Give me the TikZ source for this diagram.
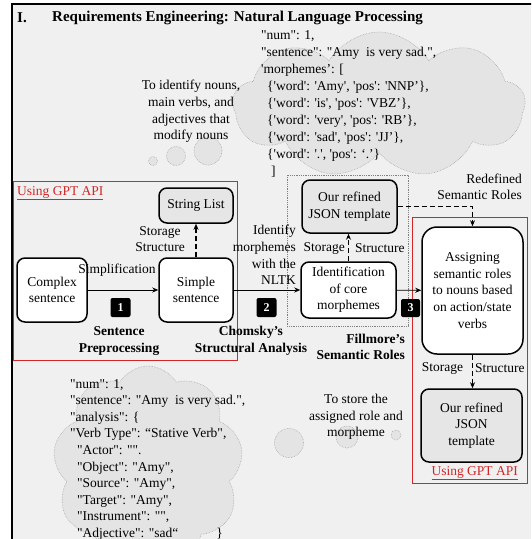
\documentclass[tikz,border=0pt]{standalone}
\usepackage{fontspec}
\setmainfont{Liberation Serif}
\usetikzlibrary{shapes.symbols,arrows.meta}
\definecolor{bg}{HTML}{F0F0F0}
\definecolor{cloudfill}{HTML}{E4E4E4}
\definecolor{cloudline}{HTML}{A8A8A8}
\definecolor{boxgray}{HTML}{E6E6E6}
\definecolor{apired}{HTML}{D02828}
\newcommand\sq{\textquotesingle}
\newcommand\dq{\textquotedbl}
\begin{document}
\begin{tikzpicture}[x=1pt,y=-1pt,
  every node/.style={font=\fontsize{13.5}{16.6}\selectfont, inner sep=0pt},
  procbox/.style={draw=black, line width=1.5pt, rounded corners=8pt, fill=white, align=center},
  graybox/.style={procbox, fill=boxgray},
  badge/.style={fill=black, rounded corners=2pt, text=white, font=\fontsize{12}{14}\selectfont\bfseries, minimum width=20pt, minimum height=19pt},
  arr/.style={-{Stealth[length=6pt,width=5pt]}, line width=0.8pt},
  darr/.style={-{Stealth[length=6pt,width=5pt]}, line width=1.4pt, dash pattern=on 5pt off 3pt},
  redframe/.style={draw=apired, line width=0.8pt},
  apitext/.style={text=apired},
  cloudy/.style={cloud, cloud puffs=9, cloud puff arc=120, fill=cloudfill, draw=cloudline, densely dotted, line width=0.6pt},
  bubble/.style={circle, fill=cloudfill, draw=cloudline, densely dotted, line width=0.6pt},
  boldlbl/.style={font=\fontsize{13.5}{16.6}\selectfont\bfseries, align=center},
]
\useasboundingbox (0,0) rectangle (531,539);
\clip (0,0) rectangle (531,539);
\fill[white] (0,0) rectangle (531,539);
\fill[bg] (12,4) rectangle (540,545);
\draw[line width=2pt] (12,545) -- (12,4) -- (540,4);

% title
\node[font=\fontsize{15}{18}\selectfont\bfseries, anchor=west] (roman) at (17,18) {I.};
\node[font=\fontsize{15}{18}\selectfont\bfseries, anchor=west] (title) at (52,18) {Requirements Engineering: Natural Language Processing};

% clouds
\node[cloudy, minimum width=292pt, minimum height=146pt] (cloudtop) at (379,105) {};
\node[bubble, minimum size=9pt] (bt1) at (153,161) {};
\node[bubble, minimum size=19pt] (bt2) at (176,156) {};
\node[bubble, minimum size=28pt] (bt3) at (208,151) {};
\node[cloudy, minimum width=190pt, minimum height=200pt] (cloudbot) at (148,466) {};
\node[bubble, minimum size=29pt] (bb1) at (289,443) {};
\node[bubble, minimum size=22pt] (bb2) at (347,437) {};
\node[bubble, minimum size=10pt] (bb3) at (396,435) {};

% JSON texts
\node[anchor=north west, align=left, font=\fontsize{13.5}{17}\selectfont] (jsontop) at (261,30)
{\dq num\dq: 1,\\
\dq sentence\dq: \dq Amy\ \ is very sad.\dq,\\
\sq morphemes’: [\\
\hspace*{6pt}\{\sq word\sq: \sq Amy\sq, \sq pos\sq: \sq NNP’\},\\
\hspace*{6pt}\{\sq word\sq: \sq is\sq, \sq pos\sq: \sq VBZ’\},\\
\hspace*{6pt}\{\sq word\sq: \sq very\sq, \sq pos\sq: \sq RB’\},\\
\hspace*{6pt}\{\sq word\sq: \sq sad\sq, \sq pos\sq: \sq JJ’\},\\
\hspace*{6pt}\{\sq word\sq: \sq.\sq, \sq pos\sq: ‘.’\}\\
\hspace*{10pt}]};
\node[anchor=north west, align=left] (jsonbot) at (70,379)
{\dq num\dq: 1,\\
\dq sentence\dq: \dq Amy\ \ is very sad.\dq,\\
\dq analysis\dq: \{\\
\dq Verb Type\dq: “Stative Verb\dq,\\
\hspace*{7pt}\dq Actor\dq: \dq\dq.\\
\hspace*{7pt}\dq Object\dq: \dq Amy\dq,\\
\hspace*{7pt}\dq Source\dq: \dq Amy\dq,\\
\hspace*{7pt}\dq Target\dq: \dq Amy\dq,\\
\hspace*{7pt}\dq Instrument\dq: \dq\dq,\\
\hspace*{7pt}\dq Adjective\dq: \dq sad“\hspace*{38pt}\}};

% notes
\node[align=center] (note1) at (191,111.5) {To identify nouns,\\main verbs, and\\adjectives that\\modify nouns};
\node[align=center] (note2) at (356,417) {To store the\\assigned role and\\morpheme};

% frames
\draw[redframe] (13,181) rectangle (237,360);
\draw[redframe] (412,217) rectangle (527,483);
\draw[densely dotted, draw=gray, line width=0.8pt] (287,175) rectangle (408,326);
\node[apitext, anchor=west] (api1) at (17,193) {\underline{Using GPT API}};
\node[apitext, anchor=east] (api2) at (518,473) {\underline{Using GPT API}};

% boxes
\node[procbox, minimum width=70pt, minimum height=64pt] (complex) at (52,290) {Complex\\sentence};
\node[procbox, minimum width=74pt, minimum height=64pt] (simple) at (196,290) {Simple\\sentence};
\node[graybox, minimum width=74pt, minimum height=35pt] (strlist) at (196,205.5) {String List};
\node[procbox, minimum width=95pt, minimum height=56pt] (ident) at (348.5,290) {Identification\\of core\\morphemes};
\node[graybox, minimum width=95pt, minimum height=53pt] (jsontpl) at (349.5,206.5) {Our refined\\JSON template};
\node[procbox, rounded corners=15pt, minimum width=101pt, minimum height=127pt] (assign) at (472.5,290.5) {Assigning\\semantic roles\\to nouns based\\on action/state\\verbs};
\node[graybox, minimum width=101pt, minimum height=73pt] (jsonout) at (471.5,425.5) {Our refined\\JSON\\template};

% connectors
\draw[arr] (complex) -- (simple);
\draw[arr] (simple) -- (ident);
\draw[arr] (ident) -- (assign);
\draw[darr] (simple.north) -- (simple.north |- strlist.south);
\draw[darr] (ident.north) -- (ident.north |- jsontpl.south);
\draw[darr] (jsontpl.east) -| (assign.north);
\draw[darr] (assign.south) -- (assign.south |- jsonout.north);

% labels
\node (simpl) at (117,270) {Simplification};
\node[align=center] (stor1) at (160,239) {Storage\\Structure};
\node[align=right, anchor=east] (nltk) at (296,255) {Identify\\morphemes\\with the\\NLTK};
\node[anchor=east] (stor2a) at (345,248) {Storage};
\node[anchor=west] (stor2b) at (355,248) {Structure};
\node[align=right, anchor=east] (redef) at (522,187) {Redefined\\Semantic Roles};
\node (stor3a) at (442.5,368) {Storage};
\node[anchor=west] (stor3b) at (475,368) {Structure};
\node[boldlbl] (stage1) at (119,341) {Sentence\\Preprocessing};
\node[boldlbl] (stage2) at (251,341) {Chomsky’s\\Structural Analysis};
\node[boldlbl, align=right, anchor=east] (stage3) at (405,347) {Fillmore’s\\Semantic Roles};

% badges
\node[badge] (b1) at (120.5,307.5) {1};
\node[badge] (b2) at (266.5,307.5) {2};
\node[badge, minimum width=19pt, minimum height=18pt] (b3) at (410.5,308) {3};
\end{tikzpicture}
\end{document}
